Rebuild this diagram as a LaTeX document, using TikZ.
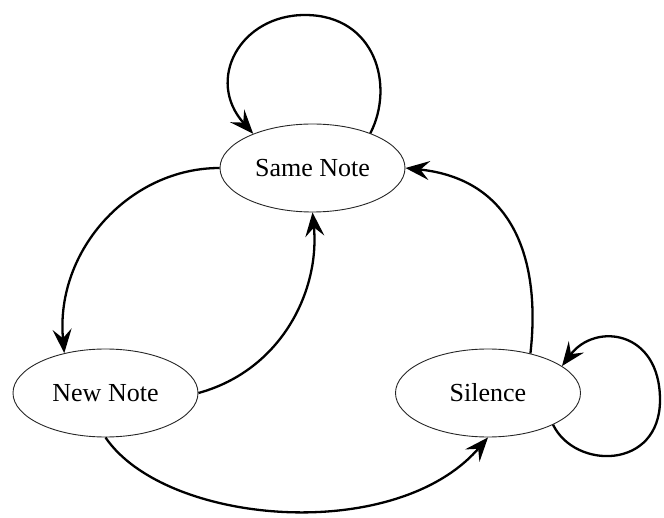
\documentclass[tikz,border=0pt]{standalone}
\usepackage{fontspec}
\setmainfont{Liberation Serif}
\usetikzlibrary{shapes.geometric,arrows.meta}
\tikzset{
  state/.style={ellipse, draw=black!85, line width=0.9pt, minimum width=185pt, minimum height=88pt, inner sep=0pt, font=\fontsize{26}{30}\selectfont},
  edge/.style={draw=black, line width=2.3pt, -{Stealth[length=24pt,width=19pt,inset=9pt]}}
}
\begin{document}
\begin{tikzpicture}[x=1pt,y=-1pt]
\useasboundingbox (0,0) rectangle (664,518);
\node[state] (SN) at (312.5,168) {Same Note};
\node[state] (NN) at (105.5,393) {New Note};
\node[state] (SI) at (488,393) {Silence};
% self loop Same Note
\draw[edge] (SN.31) .. controls (395,85) and (375,15) .. (305,15)
  .. controls (240,15) and (205,80) .. (SN.150);
% Same Note -> New Note
\draw[edge] (SN.west) .. controls (130,168) and (55,250) .. (NN.136);
% New Note -> Same Note
\draw[edge] (NN.east) .. controls (282,370) and (320,290) .. (SN.south);
% New Note -> Silence
\draw[edge] (NN.south) .. controls (165,525) and (395,545) .. (SI.south);
% Silence -> Same Note
\draw[edge] (SI.43) .. controls (540,270) and (520,180) .. (SN.east);
% self loop Silence
\draw[edge] (SI.-26) .. controls (575,470) and (660,470) .. (660,400)
  .. controls (660,330) and (595,322) .. (SI.20);
\end{tikzpicture}
\end{document}
